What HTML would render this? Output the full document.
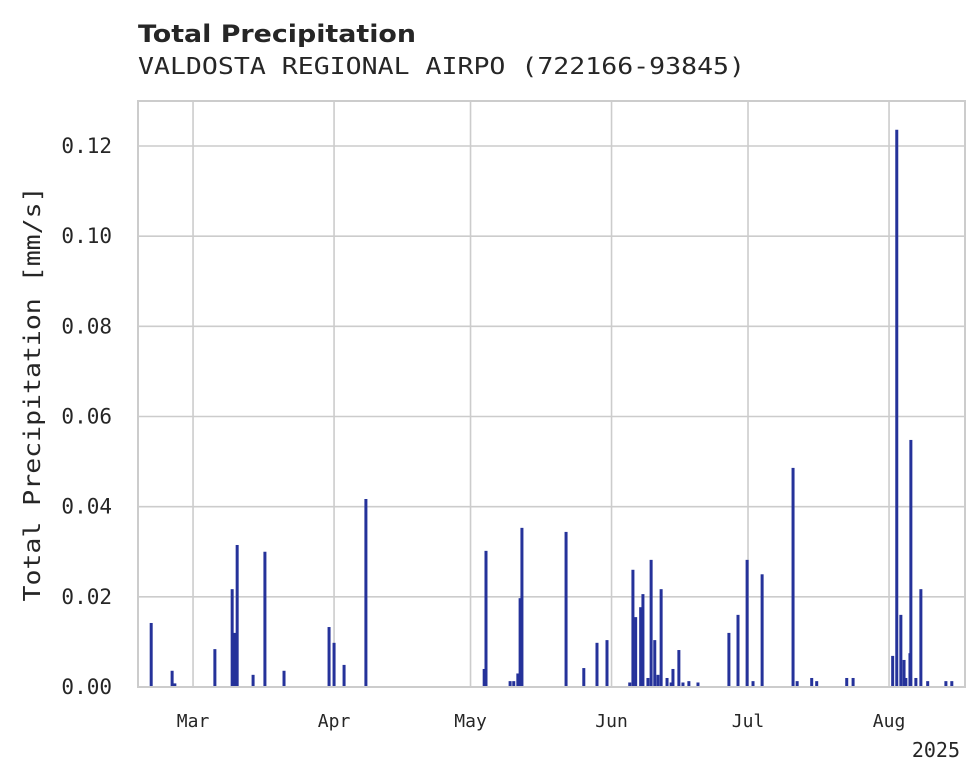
<!DOCTYPE html>
<html><head><meta charset="utf-8"><style>
html,body{margin:0;padding:0;background:#fff;}
svg{display:block;font-family:"DejaVu Sans Mono","Liberation Mono",monospace;}
</style></head><body>
<svg id="chart" width="980" height="783" viewBox="0 0 980 783" xmlns="http://www.w3.org/2000/svg">
<text x="138" y="42" font-family="DejaVu Sans, Liberation Sans, sans-serif" font-weight="bold" font-size="24" fill="#262626" textLength="278" lengthAdjust="spacingAndGlyphs">Total Precipitation</text>
<text x="138" y="74" font-size="23" fill="#262626" textLength="607" lengthAdjust="spacingAndGlyphs">VALDOSTA REGIONAL AIRPO (722166-93845)</text>
<g id="grid"></g>
<g id="bars"></g>
<rect x="138" y="101" width="827" height="586" fill="none" stroke="#cccccc" stroke-width="2"/>
<g id="axes"></g>
<text transform="translate(40,394) rotate(-90)" text-anchor="middle" font-size="23" fill="#262626" textLength="415" lengthAdjust="spacingAndGlyphs">Total Precipitation [mm/s]</text>
<text x="960" y="757" text-anchor="end" font-size="20" fill="#262626">2025</text>
</svg>
<script>
const dayOfYear = [50.8,55.4,56.0,64.8,68.6,69.2,69.7,73.2,75.8,80.0,89.9,91.0,93.2,98.0,
124.0,124.4,129.7,130.5,131.4,131.9,132.3,142.0,145.9,148.8,151.0,156.0,156.7,157.3,158.4,158.9,160.0,160.7,161.5,162.2,162.9,164.2,165.1,165.5,166.8,167.7,169.0,171.0,
177.8,179.8,181.8,183.1,185.1,191.9,192.8,196.0,197.1,203.7,205.1,213.8,214.7,215.6,216.3,216.7,217.6,217.8,218.9,220.0,221.5,225.5,226.8];
const precip = [0.0142,0.0036,0.0008,0.0084,0.0217,0.012,0.0315,0.0027,0.030,0.0036,0.0133,0.0098,0.0049,0.0417,
0.004,0.0302,0.0013,0.0013,0.003,0.0197,0.0353,0.0344,0.0042,0.0098,0.0104,0.001,0.026,0.0155,0.0177,0.0206,0.002,0.0282,0.0104,0.0027,0.0217,0.002,0.001,0.004,0.0082,0.001,0.0013,0.001,
0.012,0.016,0.0282,0.0013,0.025,0.0486,0.0013,0.002,0.0013,0.002,0.002,0.0069,0.1236,0.016,0.006,0.002,0.0075,0.0548,0.002,0.0217,0.0013,0.0013,0.0013];
const yTicks = [0,0.02,0.04,0.06,0.08,0.10,0.12];
const yTickLabels = ["0.00","0.02","0.04","0.06","0.08","0.10","0.12"];
const monthDays = [60,91,121,152,182,213];
const monthLabels = ["Mar","Apr","May","Jun","Jul","Aug"];

const L=138,R=965,T=101,B=687;
const xMin=47.9,xMax=229.7,yMax=0.12998;
const x=d=>L+(d-xMin)/(xMax-xMin)*(R-L);
const y=v=>B-v/yMax*(B-T);
const NS="http://www.w3.org/2000/svg";
function mk(tag,attrs,parent,txt){const e=document.createElementNS(NS,tag);for(const k in attrs)e.setAttribute(k,attrs[k]);if(txt!==undefined)e.textContent=txt;parent.appendChild(e);return e;}
const grid=document.getElementById('grid'),bars=document.getElementById('bars'),axes=document.getElementById('axes');
yTicks.forEach((t,i)=>{
  const g=mk('line',{x1:L,x2:R,y1:y(t),y2:y(t),stroke:'#cccccc','stroke-width':1.6},grid);
  
  
  const lb=mk('text',{x:112,y:y(t)+7,'text-anchor':'end','font-size':21,fill:'#262626'},axes,yTickLabels[i]);
  
  
});
monthDays.forEach((d,i)=>{
  const g=mk('line',{x1:x(d),x2:x(d),y1:T,y2:B,stroke:'#cccccc','stroke-width':1.6},grid);
  
  
  const lb=mk('text',{x:x(d),y:727,'text-anchor':'middle','font-size':18,fill:'#262626'},axes,monthLabels[i]);
  
  
});
dayOfYear.forEach((d,i)=>{
  const b=mk('rect',{x:x(d)-1.5,y:y(precip[i]),width:3,height:B-y(precip[i]),fill:'#25329a'},bars);
  
  
});
</script>
</body></html>
